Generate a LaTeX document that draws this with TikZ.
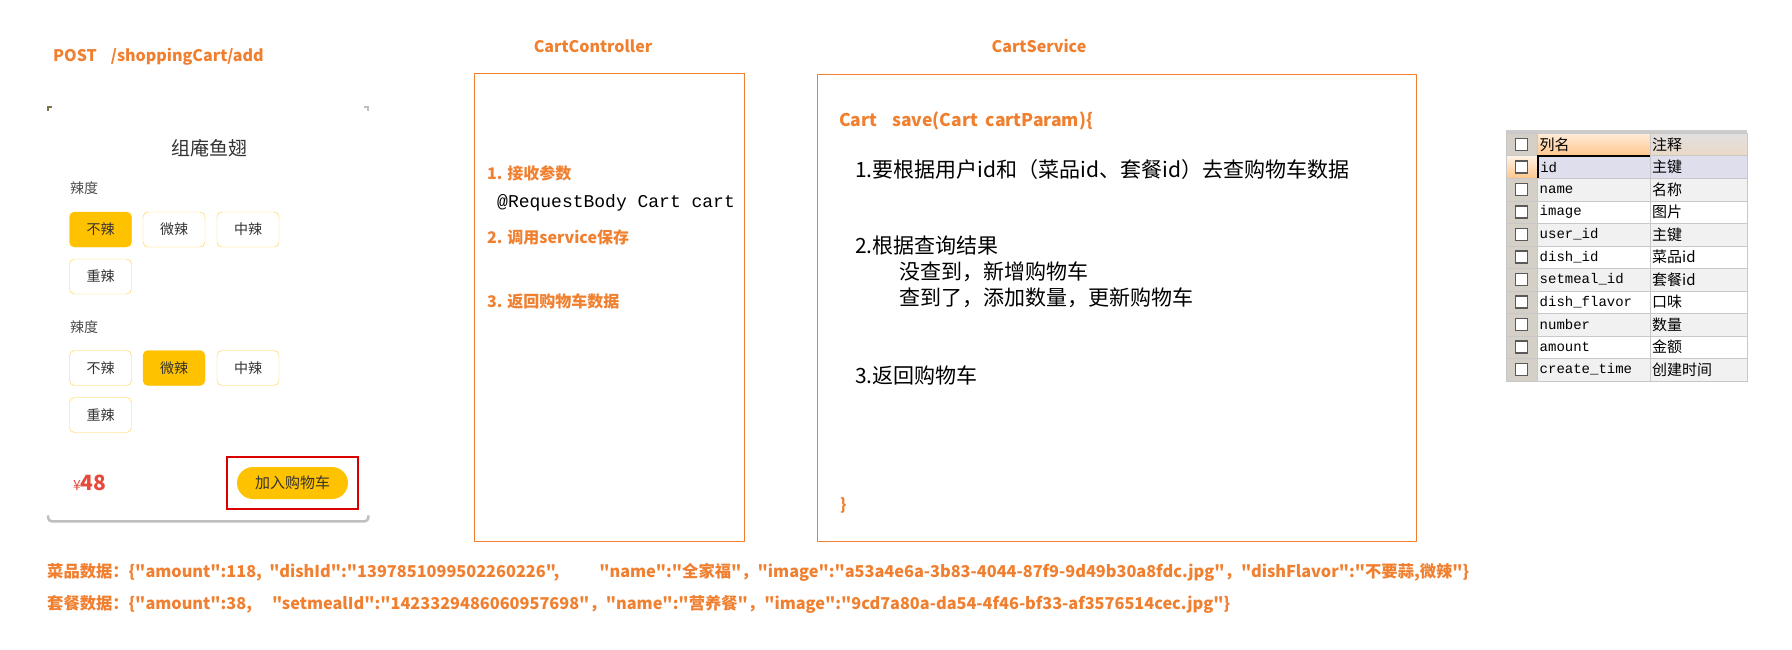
\documentclass[tikz,border=0pt]{standalone}
\usepackage{fontspec}
\setmainfont{Noto Sans CJK SC}
\newfontfamily\codefont{Liberation Mono}
\newfontfamily\datafont{Noto Sans CJK SC}
\definecolor{myorange}{HTML}{F08030}
\definecolor{btnyellow}{HTML}{FFC200}
\definecolor{btnborder}{HTML}{FFD040}
\definecolor{pricered}{HTML}{E8483A}
\definecolor{gridgray}{HTML}{C8C8C8}
\definecolor{cbgray}{HTML}{D4D0C8}
\definecolor{rowgray}{HTML}{F1F1F1}
\definecolor{idlilac}{HTML}{DEDEEC}
\tikzstyle{boxtitle} = [inner sep=0pt, text=myorange, font=\fontsize{16}{19}\selectfont\bfseries]
\tikzstyle{orangetxt} = [anchor=west, inner sep=0pt, text=myorange, font=\fontsize{16}{19}\selectfont\bfseries]
\tikzstyle{blacktxt} = [anchor=west, inner sep=0pt, font=\fontsize{21}{24}\selectfont]
\tikzstyle{datatxt} = [anchor=west, inner sep=0pt, text=myorange, font=\datafont\fontsize{16.3}{19}\selectfont\bfseries]
\tikzstyle{spicebtn} = [rectangle, rounded corners=5pt, draw=btnborder, fill=white, minimum width=62pt, minimum height=35pt, inner sep=0pt, text=black!80, font=\fontsize{14}{16}\selectfont]
\tikzstyle{spiceon} = [spicebtn, draw=btnyellow, fill=btnyellow]
\tikzstyle{cbcell} = [rectangle, anchor=north west, draw=gridgray, fill=cbgray, minimum width=31pt, minimum height=22.5pt, inner sep=0pt]
\tikzstyle{cbsq} = [rectangle, draw=black!65, line width=1.5pt, fill=white, minimum size=12pt, inner sep=0pt]
\tikzstyle{namecell} = [rectangle, anchor=north west, draw=gridgray, fill=white, minimum width=113pt, minimum height=22.5pt, text width=108pt, inner xsep=2.5pt, inner ysep=0pt, align=left, font=\codefont\fontsize{14}{16}\selectfont]
\tikzstyle{notecell} = [rectangle, anchor=north west, draw=gridgray, fill=white, minimum width=97pt, minimum height=22.5pt, text width=93pt, inner xsep=2pt, inner ysep=0pt, align=left, font=\fontsize{15}{17}\selectfont]

\begin{document}
\begin{tikzpicture}[x=1pt,y=-1pt]
    \useasboundingbox[fill=white] (0,0) rectangle (1792,650);

    % Request line
    \node (post) at (53,57) [orangetxt] {POST\hspace{14pt}/shoppingCart/add};

    % Phone card
    \node (card) at (48,107) [rectangle, anchor=north west, minimum width=320pt, minimum height=414pt, inner sep=0pt, fill=white] {};
    \draw[black!25, line width=2.5pt, rounded corners=4pt] (card.south west) ++(0,-6) -- (card.south west) -- (card.south east) -- ++(0,-6);
    \draw[black!60!yellow, line width=1.5pt] (48,111) -- (48,107) -- (52,107);
    \draw[black!25, line width=1.5pt] (364,107) -- (368,107) -- (368,111);
    \node (dish) at (209,148) [text=black!80, font=\fontsize{19}{22}\selectfont] {组庵鱼翅};
    \node (spice1) at (70,188) [anchor=west, inner sep=0pt, text=black!70, font=\fontsize{14}{16}\selectfont] {辣度};
    \node (s1a) at (100.5,229.5) [spiceon] {不辣};
    \node (s1b) at (174,229.5) [spicebtn] {微辣};
    \node (s1c) at (248,229.5) [spicebtn] {中辣};
    \node (s1d) at (100.5,276.5) [spicebtn] {重辣};
    \node (spice2) at (70,327) [anchor=west, inner sep=0pt, text=black!70, font=\fontsize{14}{16}\selectfont] {辣度};
    \node (s2a) at (100.5,368) [spicebtn] {不辣};
    \node (s2b) at (174,368) [spiceon] {微辣};
    \node (s2c) at (248,368) [spicebtn] {中辣};
    \node (s2d) at (100.5,415) [spicebtn] {重辣};
    \node (price) at (73,483) [anchor=west, inner sep=0pt, text=pricered] {{\fontsize{14}{16}\selectfont ¥}{\fontsize{21}{24}\selectfont\bfseries 48}};
    \node (addbtn) at (292.5,483) [rectangle, rounded corners=16pt, fill=btnyellow, minimum width=111pt, minimum height=32pt, inner sep=0pt, text=black!80, font=\fontsize{15}{17}\selectfont] {加入购物车};
    \node (mark) at (addbtn) [rectangle, draw=red!85!black, line width=1.5pt, minimum width=131pt, minimum height=52pt] {};

    % Controller
    \node (ctrltitle) at (593,46) [boxtitle] {CartController};
    \node (ctrl) at (474,73) [rectangle, anchor=north west, draw=myorange, minimum width=270pt, minimum height=468pt] {};
    \node (c1) at (487,173) [orangetxt] {1. 接收参数};
    \node (c1code) at (497,203) [anchor=west, inner sep=0pt, font=\codefont\fontsize{18}{20}\selectfont] {@RequestBody Cart cart};
    \node (c2) at (487,237) [orangetxt] {2. 调用service保存};
    \node (c3) at (487,301) [orangetxt] {3. 返回购物车数据};

    % Service
    \node (svctitle) at (1039,46) [boxtitle] {CartService};
    \node (svc) at (817,74) [rectangle, anchor=north west, draw=myorange, minimum width=599pt, minimum height=467pt] {};
    \node (sig) at (839,121) [orangetxt, font=\fontsize{17.5}{21}\selectfont\bfseries] {Cart\hspace{15pt}save(Cart\hspace{8pt}cartParam)\{};
    \node (v1) at (855,170) [blacktxt] {1.要根据用户id和（菜品id、套餐id）去查购物车数据};
    \node (v2) at (855,246) [blacktxt] {2.根据查询结果};
    \node (v2a) at (899,272) [blacktxt] {没查到，新增购物车};
    \node (v2b) at (899,298) [blacktxt] {查到了，添加数量，更新购物车};
    \node (v3) at (855,375) [blacktxt] {3.返回购物车};
    \node (close) at (840,505) [orangetxt] {\}};

    % Table of columns
    \fill[black!20] (1506,130) rectangle (1747,133);
    \node (cb0) at (1506,133) [cbcell] {}; \node (q0) at (cb0) [cbsq] {};
    \node (n0) at (1537,133) [namecell, top color=orange!15, bottom color=orange!45, draw=gridgray, font=\rmfamily\fontsize{15}{17}\selectfont] {列名};
    \node (m0) at (1650,133) [notecell, top color=black!12, bottom color=brown!30, draw=gridgray] {注释};
    \node (cb1) at (1506,155.5) [cbcell, top color=orange!10, bottom color=orange!45] {}; \node (q1) at (cb1) [cbsq] {};
    \node (n1) at (1537,155.5) [namecell, fill=idlilac, draw=black, line width=1.5pt] {id};
    \node (m1) at (1650,155.5) [notecell, fill=idlilac] {主键};
    \node (cb2) at (1506,178) [cbcell] {}; \node (q2) at (cb2) [cbsq] {};
    \node (n2) at (1537,178) [namecell, fill=rowgray] {name};
    \node (m2) at (1650,178) [notecell, fill=rowgray] {名称};
    \node (cb3) at (1506,200.5) [cbcell] {}; \node (q3) at (cb3) [cbsq] {};
    \node (n3) at (1537,200.5) [namecell] {image};
    \node (m3) at (1650,200.5) [notecell] {图片};
    \node (cb4) at (1506,223) [cbcell] {}; \node (q4) at (cb4) [cbsq] {};
    \node (n4) at (1537,223) [namecell, fill=rowgray] {user\_id};
    \node (m4) at (1650,223) [notecell, fill=rowgray] {主键};
    \node (cb5) at (1506,245.5) [cbcell] {}; \node (q5) at (cb5) [cbsq] {};
    \node (n5) at (1537,245.5) [namecell] {dish\_id};
    \node (m5) at (1650,245.5) [notecell] {菜品id};
    \node (cb6) at (1506,268) [cbcell] {}; \node (q6) at (cb6) [cbsq] {};
    \node (n6) at (1537,268) [namecell, fill=rowgray] {setmeal\_id};
    \node (m6) at (1650,268) [notecell, fill=rowgray] {套餐id};
    \node (cb7) at (1506,290.5) [cbcell] {}; \node (q7) at (cb7) [cbsq] {};
    \node (n7) at (1537,290.5) [namecell] {dish\_flavor};
    \node (m7) at (1650,290.5) [notecell] {口味};
    \node (cb8) at (1506,313) [cbcell] {}; \node (q8) at (cb8) [cbsq] {};
    \node (n8) at (1537,313) [namecell, fill=rowgray] {number};
    \node (m8) at (1650,313) [notecell, fill=rowgray] {数量};
    \node (cb9) at (1506,335.5) [cbcell] {}; \node (q9) at (cb9) [cbsq] {};
    \node (n9) at (1537,335.5) [namecell] {amount};
    \node (m9) at (1650,335.5) [notecell] {金额};
    \node (cb10) at (1506,358) [cbcell] {}; \node (q10) at (cb10) [cbsq] {};
    \node (n10) at (1537,358) [namecell, fill=rowgray] {create\_time};
    \node (m10) at (1650,358) [notecell, fill=rowgray] {创建时间};

    % Sample data
    \node (dishdata) at (47,572) [datatxt] {菜品数据：\{"amount":118,\ \ "dishId":"1397851099502260226",\hspace{40pt}"name":"全家福"，"image":"a53a4e6a-3b83-4044-87f9-9d49b30a8fdc.jpg"，"dishFlavor":"不要蒜,微辣"\}};
    \node (mealdata) at (47,604) [datatxt] {套餐数据：\{"amount":38,\hspace{20pt}"setmealId":"1423329486060957698"，"name":"营养餐"，"image":"9cd7a80a-da54-4f46-bf33-af3576514cec.jpg"\}};

\end{tikzpicture}
\end{document}
